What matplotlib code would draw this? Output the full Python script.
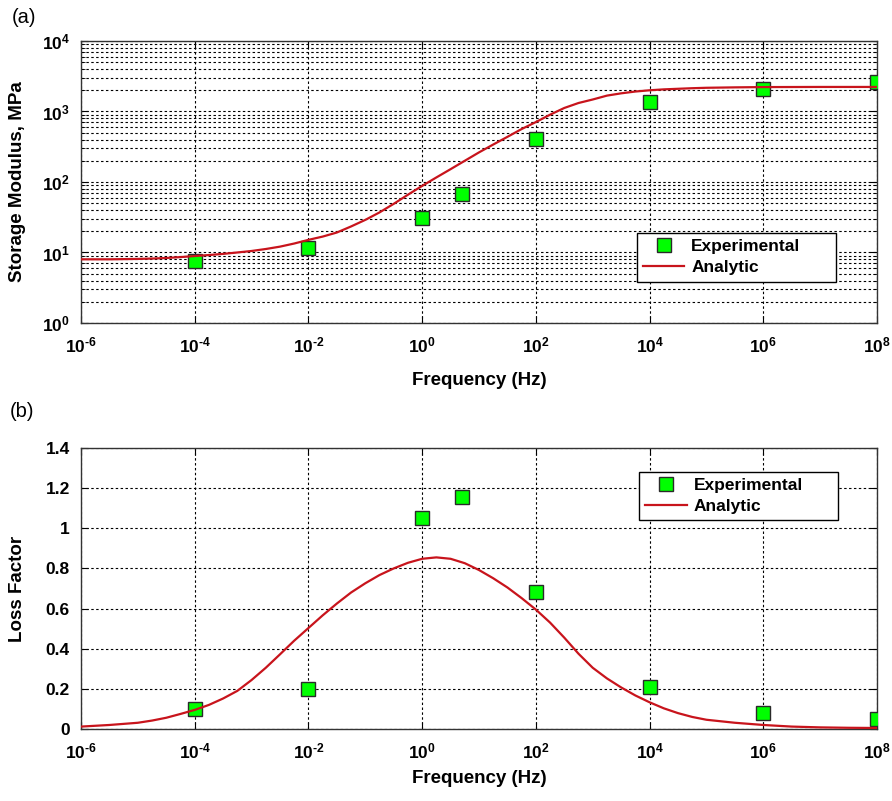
import numpy as np
import matplotlib
matplotlib.use('Agg')
from matplotlib import pyplot as plt
from matplotlib.ticker import FuncFormatter, LogLocator, NullLocator, FixedLocator

#   font setup - MATLAB look, Arial bold
plt.rcParams['font.family'] = ['Liberation Sans', 'DejaVu Sans']
plt.rcParams['mathtext.fontset'] = 'custom'
plt.rcParams['mathtext.bf'] = 'Liberation Sans:bold'
plt.rcParams['mathtext.rm'] = 'Liberation Sans:bold'

# measured points
freq_exp = [1e-4, 1e-2, 1e0, 5, 1e2, 1e4, 1e6, 1e8]
storage_exp = [7.5, 11.5, 31, 67, 407, 1350, 2090, 2630]
loss_exp = [0.10, 0.20, 1.05, 1.155, 0.683, 0.21, 0.08, 0.05]

# analytic curve (exponent of frequency)
fit_exp = [-6, -5.5, -5, -4.75, -4.5, -4.25, -4, -3.75, -3.5, -3.25, -3, -2.75,
           -2.5, -2.25, -2, -1.75, -1.5, -1.25, -1, -0.75, -0.5, -0.25, 0, 0.25,
           0.5, 0.75, 1, 1.25, 1.5, 1.75, 2, 2.25, 2.5, 2.75, 3, 3.25, 3.5, 3.75,
           4, 4.25, 4.5, 4.75, 5, 5.5, 6, 6.5, 7, 7.5, 8]
storage_fit = [8.0, 8.0, 8.1, 8.2, 8.35, 8.6, 8.9, 9.2, 9.55, 10.0, 10.5, 11.2,
               12.1, 13.4, 15.1, 16.8, 19.2, 23.4, 29, 37, 49, 66, 88, 116,
               152, 200, 263, 340, 437, 564, 708, 901, 1122, 1320, 1480, 1680, 1810, 1920,
               2000, 2060, 2100, 2140, 2170, 2200, 2220, 2225, 2230, 2230, 2230]
loss_fit = [0.012, 0.02, 0.031, 0.042, 0.056, 0.075, 0.095, 0.12, 0.152, 0.19, 0.244, 0.305,
            0.372, 0.44, 0.503, 0.566, 0.625, 0.68, 0.726, 0.767, 0.80, 0.828, 0.848, 0.855,
            0.848, 0.826, 0.792, 0.751, 0.705, 0.652, 0.595, 0.53, 0.455, 0.375, 0.305, 0.252, 0.207, 0.167,
            0.133, 0.103, 0.079, 0.06, 0.046, 0.031, 0.02, 0.012, 0.008, 0.006, 0.005]
freq_fit = [10.0 ** e for e in fit_exp]

xticks = [1e-6, 1e-4, 1e-2, 1e0, 1e2, 1e4, 1e6, 1e8]
loss_ticks = [0, 0.2, 0.4, 0.6, 0.8, 1, 1.2, 1.4]

green = '#00ff00'
red = '#c8141c'
grid_kw = dict(color='black', linestyle=(0, (2.2, 2.2)), linewidth=0.8)


def pow_label(v, p):
    n = int(round(np.log10(v)))
    if n < 0:
        return r'$\mathbf{10^{\text{-}%d}}$' % (-n)
    return r'$\mathbf{10^{%d}}$' % n


pow10 = FuncFormatter(pow_label)

fig = plt.figure(figsize=(8.92, 8.01), dpi=100)
ax1 = fig.add_axes([0.0908, 0.5968, 0.8924, 0.352])
ax2 = fig.add_axes([0.0908, 0.0899, 0.8924, 0.3508])

leg_kw = dict(loc='upper left', mode='expand', fancybox=False, framealpha=1,
              edgecolor='black', fontsize=12.5, handlelength=2.4, borderpad=0.35,
              labelspacing=0.35, handletextpad=0.4, borderaxespad=0)

#   (a) storage modulus
ax1.loglog(freq_exp, storage_exp, 's', color=green, markeredgecolor='#2a2a2a',
           markersize=10, markeredgewidth=1.0, label='Experimental', zorder=3)
ax1.loglog(freq_fit, storage_fit, '-', color=red, linewidth=1.6, label='Analytic', zorder=4)
ax1.set_xlim(1e-6, 1e8)
ax1.set_ylim(1, 1e4)
ax1.xaxis.set_major_locator(FixedLocator(xticks))
ax1.xaxis.set_minor_locator(NullLocator())
ax1.yaxis.set_major_locator(LogLocator(base=10, numticks=10))
ax1.yaxis.set_minor_locator(LogLocator(base=10, subs=np.arange(2, 10), numticks=20))
ax1.xaxis.set_major_formatter(pow10)
ax1.yaxis.set_major_formatter(pow10)
ax1.grid(True, which='major', **grid_kw)
ax1.grid(True, which='minor', axis='y', **grid_kw)
ax1.set_ylabel('Storage Modulus, MPa', fontsize=13.5, fontweight='bold')
ax1.set_xlabel('Frequency (Hz)', fontsize=13.5, fontweight='bold')
ax1.yaxis.set_label_coords(-0.069, 0.5)
ax1.xaxis.set_label_coords(0.5, -0.175)
leg1 = ax1.legend(bbox_to_anchor=(0.698, 0.138, 0.25, 0.181), **leg_kw)
for t in leg1.get_texts():
    t.set_fontweight('bold')
fig.text(0.013, 0.978, '(a)', fontsize=14.5, va='center', ha='left')

#   (b) loss factor
ax2.semilogx(freq_exp, loss_exp, 's', color=green, markeredgecolor='#2a2a2a',
             markersize=10, markeredgewidth=1.0, label='Experimental', zorder=3)
ax2.semilogx(freq_fit, loss_fit, '-', color=red, linewidth=1.6, label='Analytic', zorder=4)
ax2.set_xlim(1e-6, 1e8)
ax2.set_ylim(0, 1.4)
ax2.xaxis.set_major_locator(FixedLocator(xticks))
ax2.xaxis.set_minor_locator(NullLocator())
ax2.yaxis.set_major_locator(FixedLocator(loss_ticks))
ax2.xaxis.set_major_formatter(pow10)
ax2.yaxis.set_major_formatter(FuncFormatter(lambda v, p: '%g' % round(v, 1)))
ax2.grid(True, which='major', **grid_kw)
ax2.set_ylabel('Loss Factor', fontsize=13.5, fontweight='bold')
ax2.set_xlabel('Frequency (Hz)', fontsize=13.5, fontweight='bold')
ax2.yaxis.set_label_coords(-0.069, 0.5)
ax2.xaxis.set_label_coords(0.5, -0.145)
leg2 = ax2.legend(bbox_to_anchor=(0.701, 0.735, 0.25, 0.18), **leg_kw)
for t in leg2.get_texts():
    t.set_fontweight('bold')
fig.text(0.011, 0.486, '(b)', fontsize=14.5, va='center', ha='left')

for ax in (ax1, ax2):
    ax.tick_params(which='both', direction='in', top=True, right=True, labelsize=12.5)
    ax.tick_params(which='major', length=5)
    ax.tick_params(which='minor', length=3)
    ax.tick_params(axis='y', pad=8)
    ax.tick_params(axis='x', pad=9)
    for t in ax.get_yticklabels():
        t.set_fontweight('bold')
    for s in ax.spines.values():
        s.set_color('#333333')
        s.set_linewidth(1.0)
    ax.set_axisbelow(True)

fig.savefig('out.png', dpi=100)
